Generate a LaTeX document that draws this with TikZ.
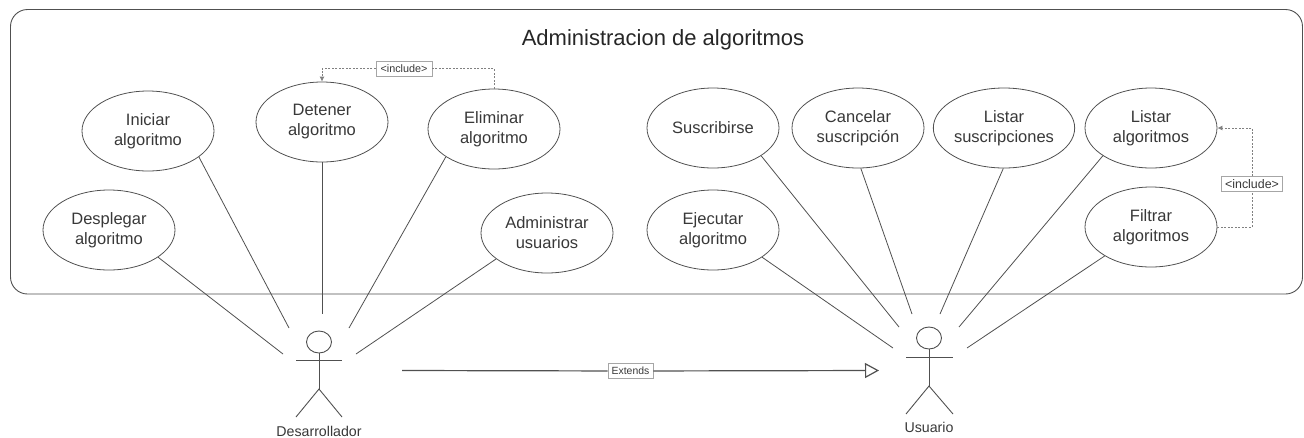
\documentclass[tikz,border=0pt]{standalone}
\usepackage{fontspec}
\setmainfont{Liberation Sans}
\usetikzlibrary{shapes,positioning,calc,arrows.meta}

\definecolor{inkline}{HTML}{505050}
\definecolor{inktext}{HTML}{383838}
\tikzset{
    usecase/.style={draw=inkline, ellipse, line width=0.8pt, minimum width=132pt, minimum height=80pt, inner sep=0pt, align=center, text=inktext, font=\fontsize{16.5}{20}\selectfont},
    assoc/.style={draw=inkline, line width=0.8pt},
    actorline/.style={draw=inkline, line width=0.9pt},
    actorname/.style={text=inktext, inner sep=0pt, font=\fontsize{14.2}{17}\selectfont},
    depline/.style={draw=gray, line width=0.8pt, dash pattern=on 2pt off 1.5pt},
    tagbox/.style={draw=gray!70, fill=white, line width=0.6pt, text=inktext, inner sep=0pt, minimum height=15pt}
}

\begin{document}
\begin{tikzpicture}[x=1pt,y=-1pt]
    \useasboundingbox (0,0) rectangle (1304,437);

    % System boundary and its title
    \draw[draw=inkline, line width=0.9pt, rounded corners=17pt] (10.5,9.5) rectangle (1302.5,294);
    \node[text=black!85, inner sep=0pt, font=\fontsize{22}{26}\selectfont] (titulo) at (663,40) {Administracion de algoritmos};

    % Developer use cases
    \node[usecase] (iniciar) at (148,131) {Iniciar\\algoritmo};
    \node[usecase] (detener) at (322,122) {Detener\\algoritmo};
    \node[usecase] (eliminar) at (494,129) {Eliminar\\algoritmo};
    \node[usecase] (desplegar) at (109,230) {Desplegar\\algoritmo};
    \node[usecase] (administrar) at (547,233) {Administrar\\usuarios};

    % User use cases
    \node[usecase] (suscribirse) at (713,128) {Suscribirse};
    \node[usecase] (cancelar) at (858,128) {Cancelar\\suscripción};
    \node[usecase] (listarsus) at (1004,128) {Listar\\suscripciones};
    \node[usecase] (listaralg) at (1151,128) {Listar\\algoritmos};
    \node[usecase] (ejecutar) at (713,230) {Ejecutar\\algoritmo};
    \node[usecase] (filtrar) at (1151,227) {Filtrar\\algoritmos};

    % Desarrollador actor
    \draw[actorline] (319,342) ellipse (12.5pt and 11pt);
    \draw[actorline] (319,353) -- (319,389);
    \draw[actorline] (296,360) -- (342,360);
    \draw[actorline] (296,417) -- (319,389) -- (342,417);
    \node[actorname] (desarrollador) at (319,431) {Desarrollador};

    % Usuario actor
    \draw[actorline] (929,338) ellipse (12.5pt and 11pt);
    \draw[actorline] (929,349) -- (929,386);
    \draw[actorline] (906,357) -- (953,357);
    \draw[actorline] (906,414) -- (929,386) -- (953,414);
    \node[actorname] (usuario) at (929,427) {Usuario};

    % Free ends of the associations around each actor
    \coordinate (devDesplegar) at (283,354);
    \coordinate (devIniciar) at (289,328);
    \coordinate (devDetener) at (322,314);
    \coordinate (devEliminar) at (349,328);
    \coordinate (devAdministrar) at (356,354);
    \coordinate (usrEjecutar) at (893,348);
    \coordinate (usrSuscribirse) at (899,327);
    \coordinate (usrCancelar) at (912,314);
    \coordinate (usrListarsus) at (940,314);
    \coordinate (usrListaralg) at (959,327);
    \coordinate (usrFiltrar) at (967,348);

    % Associations
    \draw[assoc] (desplegar.-29) -- (devDesplegar);
    \draw[assoc] (iniciar.-27) -- (devIniciar);
    \draw[assoc] (detener.south) -- (devDetener);
    \draw[assoc] (eliminar.210) -- (devEliminar);
    \draw[assoc] (administrar.207) -- (devAdministrar);
    \draw[assoc] (ejecutar.-29) -- (usrEjecutar);
    \draw[assoc] (suscribirse.-30) -- (usrSuscribirse);
    \draw[assoc] (cancelar.-86) -- (usrCancelar);
    \draw[assoc] (listarsus.269) -- (usrListarsus);
    \draw[assoc] (listaralg.210) -- (usrListaralg);
    \draw[assoc] (filtrar.212) -- (usrFiltrar);

    % Include dependencies
    \node[tagbox, minimum width=56pt, font=\fontsize{10.8}{13}\selectfont] (incDetener) at (404,68.5) {<include>};
    \draw[depline] (eliminar.north) |- (incDetener);
    \draw[depline, -{Latex[length=5pt,width=5pt]}] (incDetener) -| (detener.north);
    \node[tagbox, minimum width=61pt, font=\fontsize{12.4}{15}\selectfont] (incListar) at (1252,184) {<include>};
    \draw[depline] (filtrar.east) -| (incListar);
    \draw[depline, -{Latex[length=5pt,width=5pt]}] (incListar) |- (listaralg.east);

    % Extends between the two actors
    \coordinate (extDesde) at (402,370.5);
    \coordinate (extHasta) at (879,370.5);
    \node[tagbox, minimum width=45pt, font=\fontsize{10.4}{13}\selectfont] (extiende) at (630.5,371) {Extends};
    \draw[draw=inkline, line width=1.2pt] (extDesde) -- (extiende);
    \draw[draw=inkline, line width=1.2pt, -{Triangle[open,length=14pt,width=15pt]}] (extiende) -- (extHasta);
\end{tikzpicture}
\end{document}
